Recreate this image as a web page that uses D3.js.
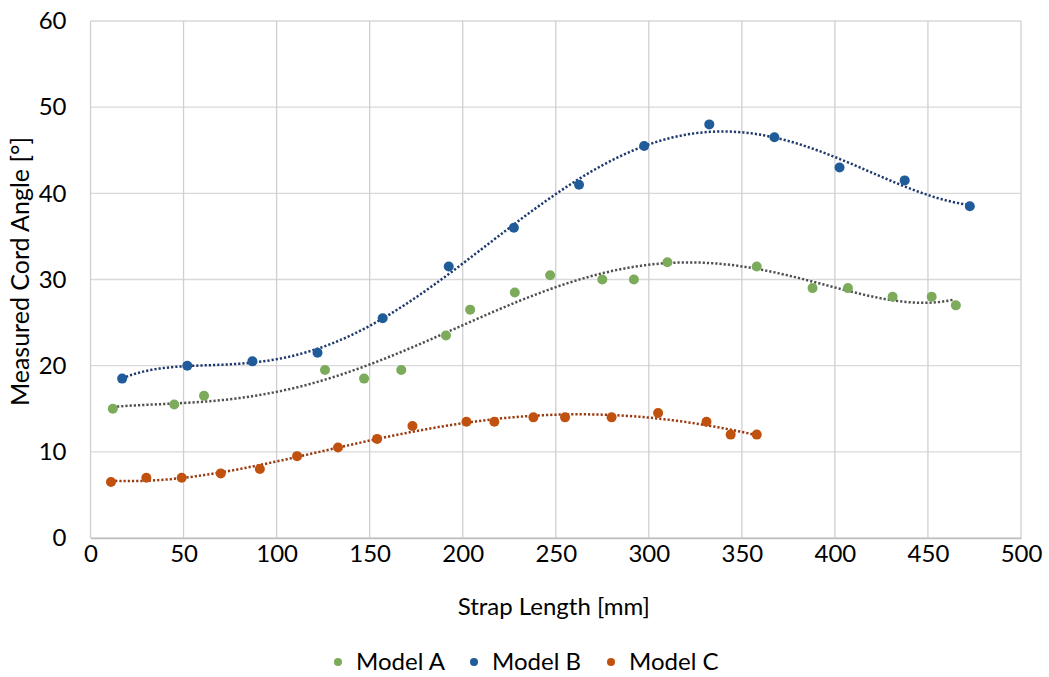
<!DOCTYPE html>
<html>
<head>
<meta charset="utf-8">
<script src="https://cdn.jsdelivr.net/npm/d3@7"></script>
<style>
  body { margin: 0; background: #fff; }
  svg { font-family: Lato, "Liberation Sans", sans-serif; }
</style>
</head>
<body>
<svg id="chart" width="1049" height="677"></svg>
<script>
// data
const modelAx = [12, 45, 61, 126, 147, 167, 191, 204, 228, 247, 275, 292, 310, 358, 388, 407, 431, 452, 465];
const modelAy = [15, 15.5, 16.5, 19.5, 18.5, 19.5, 23.5, 26.5, 28.5, 30.5, 30, 30, 32, 31.5, 29, 29, 28, 28, 27];
const modelBx = [17, 52, 87, 122, 157, 192.5, 227.5, 262.5, 297.5, 332.5, 367.5, 402.5, 437.5, 472.5];
const modelBy = [18.5, 20, 20.5, 21.5, 25.5, 31.5, 36, 41, 45.5, 48, 46.5, 43, 41.5, 38.5];
const modelCx = [11, 30, 49, 70, 91, 111, 133, 154, 173, 202, 217, 238, 255, 280, 305, 331, 344, 358];
const modelCy = [6.5, 7, 7, 7.5, 8, 9.5, 10.5, 11.5, 13, 13.5, 13.5, 14, 14, 14, 14.5, 13.5, 12, 12];
const xTicks = [0, 50, 100, 150, 200, 250, 300, 350, 400, 450, 500];
const yTicks = [0, 10, 20, 30, 40, 50, 60];

const series = [
  { name: "Model A", xs: modelAx, ys: modelAy, color: "#7cab5c", trend: "#505050", order: 5 },
  { name: "Model B", xs: modelBx, ys: modelBy, color: "#1f5c99", trend: "#1f3a6e", order: 6 },
  { name: "Model C", xs: modelCx, ys: modelCy, color: "#c1510f", trend: "#9a3a10", order: 4 }
];

const svg = d3.select("#chart");
const margin = { top: 21, right: 28, bottom: 139, left: 90.5 };
const innerWidth = 1049 - margin.left - margin.right;
const innerHeight = 677 - margin.top - margin.bottom;

const xScale = d3.scaleLinear().domain([0, 500]).range([0, innerWidth]);
const yScale = d3.scaleLinear().domain([0, 60]).range([innerHeight, 0]);

const g = svg.append("g").attr("transform", `translate(${margin.left},${margin.top})`);

// least squares polynomial (trendline, like the spreadsheet does)
function polyFit(xs, ys, order) {
  const n = order + 1;
  const s = 250;
  const A = Array.from({ length: n }, () => new Array(n + 1).fill(0));
  xs.forEach((x0, k) => {
    const x = x0 / s - 1;
    for (let i = 0; i < n; i++) {
      for (let j = 0; j < n; j++) A[i][j] += Math.pow(x, i + j);
      A[i][n] += ys[k] * Math.pow(x, i);
    }
  });
  for (let c = 0; c < n; c++) {
    let p = c;
    for (let r = c + 1; r < n; r++) if (Math.abs(A[r][c]) > Math.abs(A[p][c])) p = r;
    [A[c], A[p]] = [A[p], A[c]];
    for (let r = 0; r < n; r++) {
      if (r === c) continue;
      const f = A[r][c] / A[c][c];
      for (let j = c; j <= n; j++) A[r][j] -= f * A[c][j];
    }
  }
  const coef = A.map((row, i) => row[n] / row[i]);
  return x => coef.reduce((acc, c, i) => acc + c * Math.pow(x / s - 1, i), 0);
}

// grid
g.append("g")
  .selectAll("line")
  .data(yTicks)
  .enter()
  .append("line")
  .attr("x1", 0)
  .attr("x2", innerWidth)
  .attr("y1", d => yScale(d))
  .attr("y2", d => yScale(d))
  .attr("stroke", "#d9d9d9")
  .attr("stroke-width", 1.3);

g.append("g")
  .selectAll("line")
  .data(xTicks)
  .enter()
  .append("line")
  .attr("x1", d => xScale(d))
  .attr("x2", d => xScale(d))
  .attr("y1", 0)
  .attr("y2", innerHeight)
  .attr("stroke", "#d0d0d0")
  .attr("stroke-width", 1.3);

// axes
const xAxis = d3.axisBottom(xScale).tickValues(xTicks).tickSize(0).tickPadding(7);
const yAxis = d3.axisLeft(yScale).tickValues(yTicks).tickSize(0).tickPadding(24);

const xg = g.append("g")
  .attr("transform", `translate(0,${innerHeight})`)
  .call(xAxis);
xg.select(".domain").attr("stroke", "#bfbfbf").attr("stroke-width", 1.3);
xg.selectAll("text").attr("font-size", 24).attr("fill", "#000").attr("font-family", "Lato");

const yg = g.append("g").call(yAxis);
yg.select(".domain").remove();
yg.selectAll("text").attr("font-size", 24).attr("fill", "#000").attr("font-family", "Lato");

// trendlines
series.forEach(s => {
  const f = polyFit(s.xs, s.ys, s.order);
  const lo = d3.min(s.xs), hi = d3.max(s.xs);
  const pts = d3.range(lo, hi + 0.5, 2).map(x => [Math.min(x, hi), f(Math.min(x, hi))]);
  g.append("path")
    .datum(pts)
    .attr("fill", "none")
    .attr("stroke", s.trend)
    .attr("stroke-width", 2.5)
    .attr("stroke-dasharray", "2.2 2")
    .attr("d", d3.line().x(d => xScale(d[0])).y(d => yScale(d[1])));
});

// points
series.forEach(s => {
  g.append("g")
    .selectAll("circle")
    .data(s.xs.map((x, i) => [x, s.ys[i]]))
    .enter()
    .append("circle")
    .attr("cx", d => xScale(d[0]))
    .attr("cy", d => yScale(d[1]))
    .attr("r", 5)
    .attr("fill", s.color);
});

// axis titles
svg.append("text")
  .attr("x", margin.left + xScale(250) - 2)
  .attr("y", 615)
  .attr("text-anchor", "middle")
  .attr("font-size", 24)
  .text("Strap Length [mm]");

svg.append("text")
  .attr("transform", `translate(29,${margin.top + yScale(30) - 8}) rotate(-90)`)
  .attr("text-anchor", "middle")
  .attr("font-size", 25)
  .text("Measured Cord Angle [°]");

// legend
const legendX = [338, 474, 611];
const legend = svg.append("g");
series.forEach((s, i) => {
  legend.append("circle")
    .attr("cx", legendX[i])
    .attr("cy", 662)
    .attr("r", 4)
    .attr("fill", s.color);
  legend.append("text")
    .attr("x", legendX[i] + 18)
    .attr("y", 670)
    .attr("font-size", 24)
    .text(s.name);
});
</script>
</body>
</html>
